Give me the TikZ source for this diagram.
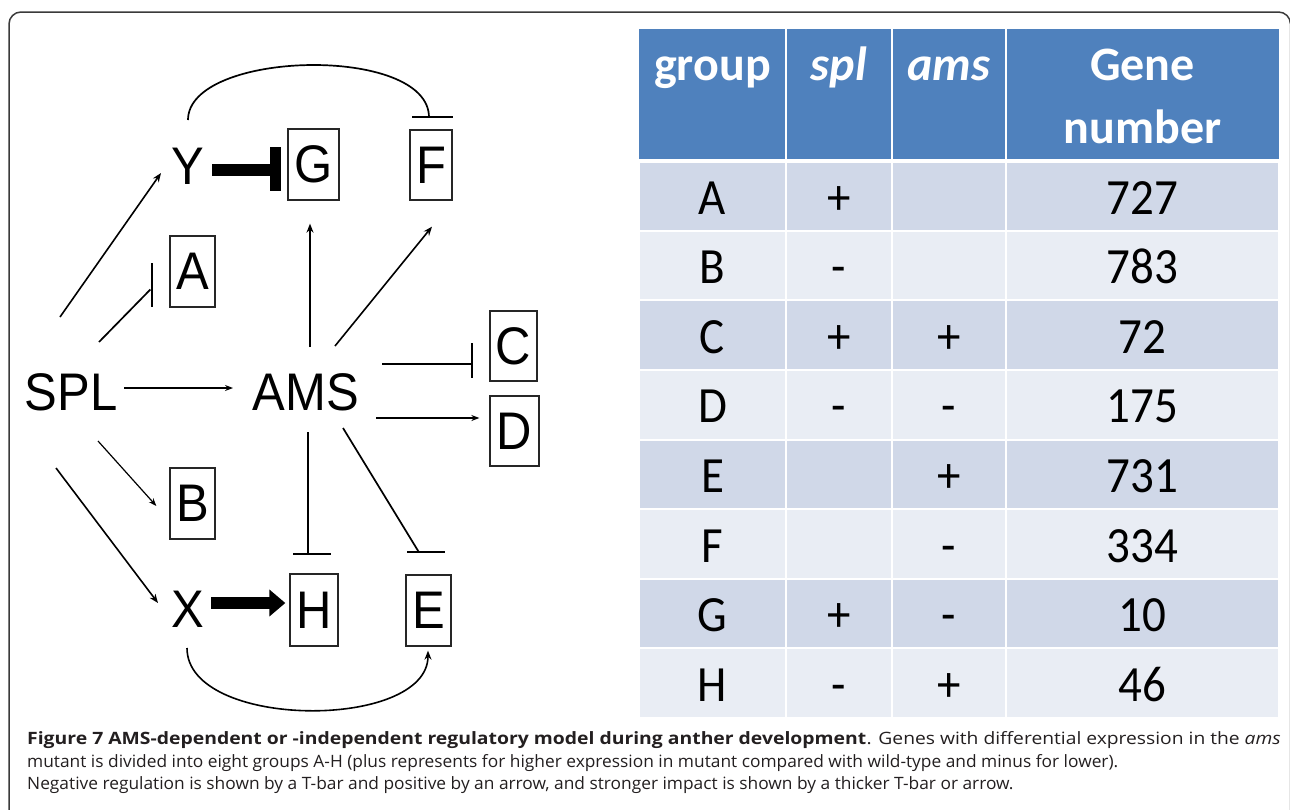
\documentclass[tikz,border=0pt]{standalone}
\usepackage{fontspec}
\usepackage{graphicx}
\setmainfont{Liberation Sans}
\newfontfamily\calib{Carlito}
\newfontfamily\capfont{Open Sans}
\usetikzlibrary{arrows.meta,calc}
\definecolor{hdr}{HTML}{4F81BD}
\definecolor{rowodd}{HTML}{D0D8E8}
\definecolor{roweven}{HTML}{E9EDF4}
\definecolor{framecol}{HTML}{3A3A3A}
\definecolor{captxt}{HTML}{231F20}
\newcommand\vstr[1]{\scalebox{1}[1.08]{#1}}
\newcommand\capsize{\capfont\fontsize{17}{20}\selectfont}
\newlength\lwtwo
\tikzset{
  lbl/.style={inner sep=0pt, font=\fontsize{49}{49}\selectfont},
  gbox/.style={draw=black!85, line width=1.3pt, inner sep=0pt, minimum height=71pt, font=\fontsize{49}{49}\selectfont},
  act/.style={line width=1.6pt, -{Stealth[length=9pt,width=7pt]}},
  actthin/.style={line width=1.2pt, -{Stealth[length=8pt,width=6pt]}},
  inh/.style={line width=1.7pt},
  tbar/.style={line width=1.8pt},
  cellodd/.style={fill=rowodd, draw=white, line width=2pt},
  celleven/.style={fill=roweven, draw=white, line width=2pt},
  htxt/.style={inner sep=0pt, anchor=base, text=white, font=\calib\bfseries\fontsize{48}{48}\selectfont},
  btxt/.style={inner sep=0pt, anchor=base, text=black, font=\calib\fontsize{47}{47}\selectfont},
  captxtst/.style={inner sep=0pt, anchor=base west, text=captxt, font=\capsize},
}
\begin{document}
\settowidth\lwtwo{\capsize mutant is divided into eight groups A-H (plus represents for higher expression in mutant compared with wild-type and minus for lower).}
\pgfmathsetmacro\capsx{1091/\lwtwo}
\begin{tikzpicture}[x=1pt,y=-1pt]
\useasboundingbox (0,0) rectangle (1290,809);
\fill[white] (0,0) rectangle (1290,809);
\begin{scope}
  \clip (0,0) rectangle (1290,809);
  \draw[framecol, line width=1.5pt, rounded corners=12pt] (9,12) rectangle (1290.5,850);
\end{scope}

% ---------- diagram nodes ----------
\node[lbl] (SPL) at (71,392) {\vstr{SPL}};
\node[lbl] (AMS) at (306,392) {\vstr{AMS}};
\node[lbl] (Y) at (188,166) {\vstr{Y}};
\node[lbl] (X) at (188,609) {\vstr{X}};
\node[gbox, minimum width=51pt] (G) at (313.5,164.5) {\vstr{G}};
\node[gbox, minimum width=42pt, minimum height=70pt] (F) at (431,165) {\vstr{F}};
\node[gbox, minimum width=45pt] (A) at (192.5,271.5) {\vstr{A}};
\node[gbox, minimum width=47pt, minimum height=70pt] (C) at (513.5,346) {\vstr{C}};
\node[gbox, minimum width=49pt, minimum height=70pt] (D) at (514.5,431) {\vstr{D}};
\node[gbox, minimum width=45pt] (B) at (192.5,503.5) {\vstr{B}};
\node[gbox, minimum width=48pt, minimum height=72pt] (H) at (314,610) {\vstr{H}};
\node[gbox, minimum width=45pt] (E) at (428.5,610.5) {\vstr{E}};

% ---------- connectors ----------
\draw[act] ([shift={(-11,-75)}]SPL.center) -- ([shift={(-27,7)}]Y.center);
\draw[inh] ([shift={(28,-50)}]SPL.center) -- ([shift={(-19,18)}]A.west);
\draw[tbar] ([shift={(-17,-8.5)}]A.west) -- ([shift={(-17,35.5)}]A.west);
\draw[actthin] ([shift={(53,-4)}]SPL.center) -- ([shift={(-73,-4)}]AMS.center);
\draw[actthin] ([shift={(27,49)}]SPL.center) -- ([shift={(-13,2.5)}]B.west);
\draw[act] ([shift={(-15,76)}]SPL.center) -- ([shift={(-30,-6)}]X.center);
\draw[act] ([shift={(4,-45)}]AMS.center) -- ([shift={(-3.5,23)}]G.south);
\draw[act] ([shift={(29,-46)}]AMS.center) -- ([shift={(1,26)}]F.south);
\draw[inh] ([shift={(76,-28)}]AMS.center) -- ([shift={(-17,18)}]C.west);
\draw[tbar] ([shift={(-17,-3)}]C.west) -- ([shift={(-17,32)}]C.west);
\draw[actthin] ([shift={(70,26)}]AMS.center) -- ([shift={(-10,-13)}]D.west);
\draw[inh] ([shift={(2,40)}]AMS.center) -- ([shift={(-6,-19)}]H.north);
\draw[tbar] ([shift={(-21,-19)}]H.north) -- ([shift={(17,-19)}]H.north);
\draw[inh] ([shift={(37,36)}]AMS.center) -- ([shift={(-9.5,-22)}]E.north);
\draw[tbar] ([shift={(-21.5,-22)}]E.north) -- ([shift={(16.5,-22)}]E.north);
% thick inhibition Y -| G
\draw[line width=12pt] ([shift={(24,4)}]Y.center) -- ([shift={(-12,5.5)}]G.west);
\draw[line width=11pt] ([shift={(-11.5,-17.5)}]G.west) -- ([shift={(-11.5,26.5)}]G.west);
% thick activation X -> H
\draw[line width=12pt, -{Triangle[length=16pt,width=26pt]}] ([shift={(23,-6)}]X.center) -- ([shift={(-4,-7)}]H.west);
% arc Y -| F
\draw[inh] ([shift={(0,-46)}]Y.center) .. controls ([shift={(0,-116)}]Y.center) and ([shift={(-2,-85)}]F.north) .. ([shift={(-2,-12)}]F.north);
\draw[tbar] ([shift={(-19,-12)}]F.north) -- ([shift={(22,-12)}]F.north);
% arc X -> E
\draw[act] ([shift={(-1,39)}]X.center) .. controls ([shift={(-1,121)}]X.center) and ([shift={(-0.5,84)}]E.south) .. ([shift={(-0.5,4)}]E.south);

% ---------- table ----------
\fill[hdr] (639,29) rectangle (1279,161);
\draw[white, line width=2pt] (786,29) -- (786,161) (892,29) -- (892,161) (1006,29) -- (1006,161);
\node[htxt] (hgroup) at (712.5,80) {group};
\node[htxt] (hspl) at (839,80) {\itshape spl};
\node[htxt] (hams) at (949,80) {\itshape ams};
\node[htxt] (hgene) at (1142.5,80) {Gene};
\node[htxt] (hnum) at (1142.5,143) {number};

\foreach \r/\g/\s/\n [count=\i from 0] in {A/+//727, B/-//783, C/+/+/72, D/-/-/175, E//+/731, F//-/334, G/+/-/10, H/-/+/46}{
  \pgfmathsetmacro{\top}{161+\i*69.625}
  \pgfmathsetmacro{\bot}{\top+69.625}
  \pgfmathsetmacro{\bl}{\top+53}
  \pgfmathtruncatemacro{\odd}{mod(\i,2)}
  \ifnum\odd=0 \def\cst{cellodd}\else\def\cst{celleven}\fi
  \foreach \xa/\xb in {639/786, 786/892, 892/1006, 1006/1279}{
    \path[\cst] (\xa,\top) rectangle (\xb,\bot);
  }
  \node[btxt] (g\r) at (712.5,\bl) {\vstr{\r}};
  \node[btxt] (s\r) at (839,\bl) {\vstr{\g}};
  \node[btxt] (a\r) at (949,\bl) {\vstr{\s}};
  \node[btxt] (n\r) at (1142.5,\bl) {\vstr{\n}};
}
\draw[white, line width=4pt] (639,161) -- (1279,161);
\draw[white, line width=2pt] (639,718) -- (1279,718);

% ---------- caption ----------
\node[captxtst] (cap1a) at (27,744) {\resizebox{839pt}{\height}{\bfseries Figure 7 AMS-dependent or -independent regulatory model during anther development}};
\node[captxtst] (cap1b) at (cap1a.base east) {\resizebox{414pt}{\height}{. Genes with differential expression in the \textit{ams}}};
\node[captxtst] (cap2) at (27,767) {\scalebox{\capsx}[1]{mutant is divided into eight groups A-H (plus represents for higher expression in mutant compared with wild-type and minus for lower).}};
\node[captxtst] (cap3) at (27,789) {\scalebox{\capsx}[1]{Negative regulation is shown by a T-bar and positive by an arrow, and stronger impact is shown by a thicker T-bar or arrow.}};
\end{tikzpicture}
\end{document}
